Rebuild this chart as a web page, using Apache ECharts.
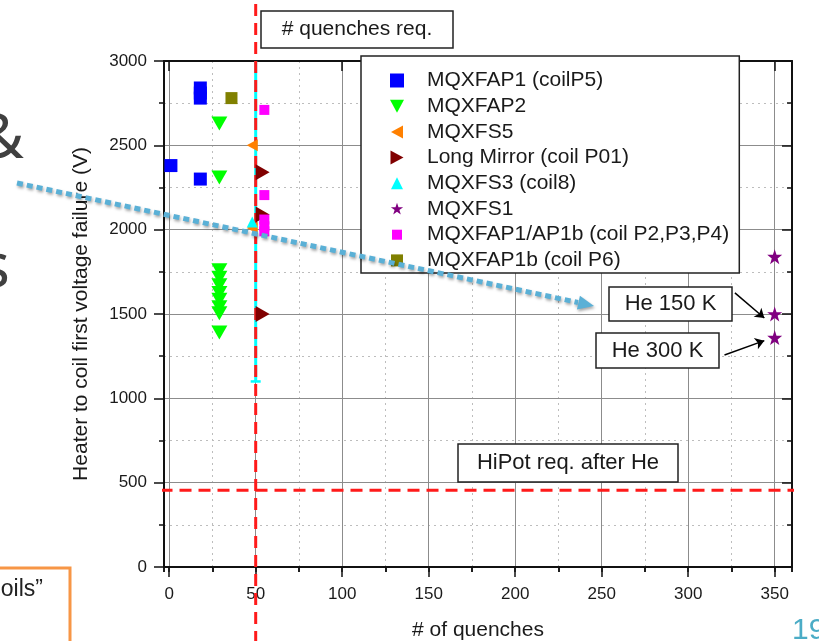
<!DOCTYPE html>
<html>
<head>
<meta charset="utf-8">
<script src="https://cdn.jsdelivr.net/npm/echarts@6/dist/echarts.min.js"></script>
<style>
  html, body { margin: 0; background: #fff; }
  #chart { width: 819px; height: 641px; }
</style>
</head>
<body>
<div id="chart"></div>
<script>
// points: [# of quenches, voltage (V)]
const mqxfap1 = [[1, 2380], [18, 2300], [18, 2780], [18, 2810], [18, 2840]]
const mqxfap2 = [[29, 2630], [29, 2310], [29, 1760], [29, 1715], [29, 1670], [29, 1625], [29, 1585], [29, 1540], [29, 1505], [29, 1390]]
const mqxfs5 = [[48, 2500], [48, 2010]]
const longMirror = [[54, 2340], [54, 2090], [54, 1500]]
const mqxfs3 = [[48, 2045]]
const mqxfs1 = [[350, 1840], [350, 1500], [350, 1360]]
const mqxfap1b = [[55, 2710], [55, 2205], [55, 2060], [55, 2020], [55, 1990]]
const mqxfap1bP6 = [[36, 2780]]

// MQXFS3 vertical bar: x, low, high
const mqxfs3Bar = [50, 1100, 3000]

// requirement lines
const quenchReq = 50
const hipotReq = 455
const quenchReqSpan = [-450, 3400]
const hipotReqSpan = [-16, 380]

// annotation arrows: [tail, head]
const he150Arrow = [[327, 1625], [344, 1476]]
const he300Arrow = [[321, 1257], [344, 1342]]

const legendNames = ['MQXFAP1 (coilP5)', 'MQXFAP2', 'MQXFS5', 'Long Mirror (coil P01)',
  'MQXFS3 (coil8)', 'MQXFS1', 'MQXFAP1/AP1b (coil P2,P3,P4)', 'MQXFAP1b (coil P6)']

const FONT = '"Liberation Sans", Arial, sans-serif'
const INK = '#1a1a1a'
const starPath = 'path://M50,0L61.8,35.3L99,35.5L69.1,57.7L80.3,93.3L50,71.7L19.7,93.3L30.9,57.7L1,35.5L38.2,35.3Z'

// legend icons, drawn in a 14x14 box (the lone moveTo points fix the box)
const legendIcons = [
  'rect',
  'path://M0,0L14,0L7,13Z',
  'path://M0,0M14,14M13,0.5L13,13.5L1,7Z',
  'path://M0,0L0,14L13,7Z',
  'path://M0,0M14,14M7,1L13,13L1,13Z',
  'path://M-6,-6M106,106M50,0L61.8,35.3L99,35.5L69.1,57.7L80.3,93.3L50,71.7L19.7,93.3L30.9,57.7L1,35.5L38.2,35.3Z',
  'path://M0,0M14,14M2,2L12,2L12,12L2,12Z',
  'path://M0,0M14,14M1,1L13,1L13,13L1,13Z'
]

const axisLine = { show: true, onZero: false, lineStyle: { color: '#111', width: 2 } }
const tickLine = { color: '#111', width: 1.5 }
const solidGrid = { show: true, lineStyle: { color: '#8c8c8c', width: 1 } }
const dottedGrid = { show: true, lineStyle: { color: '#bdbdbd', width: 1, type: [2, 4] } }

function scatter(name, data, color, symbol, size, rotate) {
  return {
    name: name,
    type: 'scatter',
    data: data,
    symbol: symbol,
    symbolSize: size,
    symbolRotate: rotate || 0,
    itemStyle: { color: color, opacity: 1 },
    emphasis: { disabled: true },
    z: 4
  }
}

function refLine(data, color) {
  return {
    type: 'line',
    data: data,
    symbol: 'none',
    clip: false,
    silent: true,
    lineStyle: { color: color, width: 3, type: [12, 7] },
    z: 3
  }
}

function box(x, y, w, h, text, size) {
  return [{
    type: 'rect', z: 100,
    shape: { x: x, y: y, width: w, height: h },
    style: { fill: '#fff', stroke: '#222', lineWidth: 1.5 }
  }, {
    type: 'text', z: 101, x: x + w / 2, y: y + h / 2,
    style: { text: text, font: size + 'px ' + FONT, fill: INK, align: 'center', verticalAlign: 'middle' }
  }]
}

const starSeries = scatter('MQXFS1', mqxfs1, '#800080', starPath, 15)
starSeries.markLine = {
  silent: true,
  animation: false,
  symbol: ['none', 'arrow'],
  symbolSize: 9,
  label: { show: false },
  emphasis: { disabled: true },
  lineStyle: { color: '#000', width: 1.5, type: 'solid' },
  data: [
    [{ coord: he150Arrow[0] }, { coord: he150Arrow[1] }],
    [{ coord: he300Arrow[0] }, { coord: he300Arrow[1] }]
  ]
}

const myChart = echarts.init(document.getElementById('chart'))

const options = {
  animation: false,
  backgroundColor: '#fff',
  textStyle: { fontFamily: FONT },
  grid: { left: 164, right: 27, top: 61, bottom: 74, containLabel: false, outerBoundsMode: 'none' },
  legend: {
    orient: 'vertical',
    left: 361,
    top: 56,
    padding: [14, 10, 2, 29],
    itemWidth: 14,
    itemHeight: 14,
    itemGap: 4.7,
    selectedMode: false,
    backgroundColor: '#fff',
    borderColor: '#222',
    borderWidth: 1.5,
    textStyle: { fontFamily: FONT, fontSize: 21, color: INK, padding: [0, 0, 0, 18] },
    data: legendNames.map((name, i) => ({ name: name, icon: legendIcons[i] }))
  },
  xAxis: [{
    type: 'value', position: 'bottom', min: -3, max: 360, splitNumber: 7, minInterval: 50, maxInterval: 50, z: 1,
    axisLine: axisLine,
    axisTick: { show: true, length: 10, lineStyle: tickLine },
    axisLabel: { showMinLabel: false, showMaxLabel: false, margin: 19, fontSize: 17, fontFamily: FONT, color: INK },
    splitLine: solidGrid,
    name: '# of quenches', nameLocation: 'middle', nameGap: 53,
    nameTextStyle: { fontSize: 21, fontFamily: FONT, color: INK }
  }, {
    type: 'value', position: 'bottom', min: -3, max: 360, splitNumber: 14, minInterval: 25, maxInterval: 25, z: 0,
    axisLine: { show: false },
    axisTick: { show: true, length: 5, lineStyle: tickLine },
    axisLabel: { show: false },
    splitLine: dottedGrid
  }, {
    type: 'value', position: 'top', min: -3, max: 360, splitNumber: 7, minInterval: 50, maxInterval: 50, z: 1,
    axisLine: axisLine,
    axisTick: { show: true, inside: true, length: 10, lineStyle: tickLine },
    axisLabel: { show: false },
    splitLine: { show: false }
  }, {
    type: 'value', position: 'top', min: -3, max: 360, splitNumber: 14, minInterval: 25, maxInterval: 25, z: 1,
    axisLine: { show: false },
    axisTick: { show: true, inside: true, length: 5, lineStyle: tickLine },
    axisLabel: { show: false },
    splitLine: { show: false }
  }],
  yAxis: [{
    type: 'value', position: 'left', min: 0, max: 3000, interval: 500, z: 1,
    axisLine: axisLine,
    axisTick: { show: true, length: 10, lineStyle: tickLine },
    minorTick: { show: true, splitNumber: 2, length: 5, lineStyle: tickLine },
    axisLabel: { margin: 17, fontSize: 17, fontFamily: FONT, color: INK, formatter: v => String(v) },
    splitLine: solidGrid,
    minorSplitLine: dottedGrid,
    name: 'Heater to coil first voltage failure (V)', nameLocation: 'middle', nameGap: 72,
    nameTextStyle: { fontSize: 21, fontFamily: FONT, color: INK }
  }, {
    type: 'value', position: 'right', min: 0, max: 3000, interval: 500, z: 1,
    axisLine: axisLine,
    axisTick: { show: true, inside: true, length: 10, lineStyle: tickLine },
    minorTick: { show: true, splitNumber: 2, length: 5, lineStyle: tickLine },
    axisLabel: { show: false },
    splitLine: { show: false }
  }],
  series: [
    {
      type: 'line',
      clip: false,
      silent: true,
      symbol: 'none',
      showSymbol: true,
      lineStyle: { color: '#00ffff', width: 3 },
      itemStyle: { color: '#00ffff' },
      data: [
        { value: [mqxfs3Bar[0], mqxfs3Bar[1]], symbol: 'rect', symbolSize: [10, 2.5] },
        { value: [mqxfs3Bar[0], mqxfs3Bar[2]], symbol: 'none' }
      ],
      z: 2
    },
    refLine([[quenchReq, quenchReqSpan[0]], [quenchReq, quenchReqSpan[1]]], '#ff1a1a'),
    refLine([[hipotReqSpan[0], hipotReq], [hipotReqSpan[1], hipotReq]], '#ff1a1a'),
    scatter(legendNames[0], mqxfap1, '#0000ff', 'rect', 13),
    scatter(legendNames[1], mqxfap2, '#00ff00', 'triangle', [16, 14], 180),
    scatter(legendNames[2], mqxfs5, '#ff8000', 'triangle', [12, 11], 90),
    scatter(legendNames[3], longMirror, '#800000', 'triangle', [16, 14], -90),
    scatter(legendNames[4], mqxfs3, '#00ffff', 'triangle', 11),
    starSeries,
    scatter(legendNames[6], mqxfap1b, '#ff00ff', 'rect', 10),
    scatter(legendNames[7], mqxfap1bP6, '#808000', 'rect', 12)
  ],
  graphic: [
    // bits of the slide around the plot
    { type: 'text', x: 24, y: 140, style: { text: '&', font: '62px "Noto Sans"', fill: '#404040', align: 'right', verticalAlign: 'middle' } },
    { type: 'text', x: 10, y: 269, style: { text: 's', font: '62px "Noto Sans"', fill: '#404040', align: 'right', verticalAlign: 'middle' } },
    { type: 'rect', shape: { x: -10, y: 568, width: 80, height: 90 }, style: { fill: '#fff', stroke: '#f79646', lineWidth: 3 } },
    { type: 'text', x: 43, y: 590, style: { text: 'coils\u201d', font: '23px ' + FONT, fill: '#222', align: 'right', verticalAlign: 'middle' } },
    { type: 'text', x: 792, y: 616, style: { text: '19', font: '30px ' + FONT, fill: '#4bacc6', verticalAlign: 'top' } },
    ...box(261, 11, 192, 37, '# quenches req.', 21),
    ...box(609, 287, 123, 34, 'He 150 K', 22),
    ...box(596, 333, 123, 35, 'He 300 K', 22),
    ...box(458, 444, 220, 38, 'HiPot req. after He', 22),
    {
      type: 'line', z: 200,
      shape: { x1: 17, y1: 183, x2: 578, y2: 302.5 },
      style: { stroke: '#5ab0d6', lineWidth: 5, lineDash: [6, 4], shadowBlur: 3, shadowColor: 'rgba(0,0,0,0.35)', shadowOffsetX: 1, shadowOffsetY: 2 }
    },
    {
      type: 'polygon', z: 200,
      shape: { points: [[594, 306], [576.9, 309.5], [579.9, 295.8]] },
      style: { fill: '#5ab0d6', shadowBlur: 3, shadowColor: 'rgba(0,0,0,0.35)', shadowOffsetX: 1, shadowOffsetY: 2 }
    }
  ]
}

myChart.setOption(options)
</script>
</body>
</html>
